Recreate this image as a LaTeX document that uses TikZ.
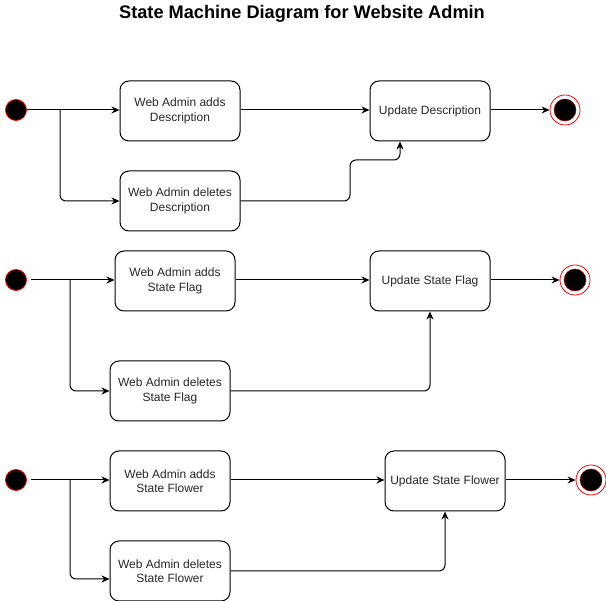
\documentclass[tikz,border=0pt]{standalone}
\usepackage{fontspec}
\setmainfont{Liberation Sans}
\usetikzlibrary{arrows.meta}
\begin{document}
\begin{tikzpicture}[x=1pt, y=-1pt, >={Stealth[length=8pt,width=7pt]}, line width=1pt,
	state/.style={draw, rounded corners=9pt, minimum width=120pt, minimum height=60pt, align=center, inner sep=2pt, font=\fontsize{12}{14.5}\selectfont, text=black!85},
	start/.style={circle, fill=black, draw=red, line width=.8pt, minimum size=21pt, inner sep=0pt},
	stop/.style={circle, fill=white, draw=red, line width=.8pt, minimum size=30pt, inner sep=0pt,
		path picture={\filldraw[fill=black, draw=red!70!black, line width=.5pt] (path picture bounding box.center) circle (11pt);}}]
	\useasboundingbox (0,0) rectangle (606,601);
	\node[font=\fontsize{18.2}{20}\selectfont\bfseries] (title) at (302,14) {State Machine Diagram for Website Admin};

	\foreach \n/\y in {1/110,2/280,3/480}
	{
		\node[start] (s\n) at (16,\y) {};
	}

	% description
	\node[state] (a1) at (180,111) {Web Admin adds\\Description};
	\node[state] (d1) at (180,201) {Web Admin deletes\\Description};
	\node[state] (u1) at (430,111) {Update Description};
	\node[stop] (e1) at (565,110) {};
	\coordinate (j1) at (60,110);
	\draw[->] (s1) -- (a1.west|-s1);
	\draw[->, rounded corners=6pt] (j1) |- (d1);
	\draw[->] (a1.east|-s1) -- (u1.west|-s1);
	\draw[->, rounded corners=6pt] (d1.east) -| (350,160) -| ([xshift=-30pt]u1.south);
	\draw[->] (u1.east|-e1) -- (e1);

	% state flag
	\node[state] (a2) at (175,281) {Web Admin adds\\State Flag};
	\node[state] (d2) at (170,391) {Web Admin deletes\\State Flag};
	\node[state] (u2) at (430,281) {Update State Flag};
	\node[stop] (e2) at (575,280) {};
	\coordinate (j2) at (70,280);
	\draw[->] ([xshift=4pt]s2.east) -- (a2.west|-s2);
	\draw[->, rounded corners=6pt] (j2) |- (d2);
	\draw[->] (a2.east|-s2) -- (u2.west|-s2);
	\draw[->, rounded corners=6pt] (d2.east) -| (u2.south);
	\draw[->] (u2.east|-e2) -- (e2);

	% state flower
	\node[state] (a3) at (170,481) {Web Admin adds\\State Flower};
	\node[state] (d3) at (170,571) {Web Admin deletes\\State Flower};
	\node[state] (u3) at (445,481) {Update State Flower};
	\node[stop] (e3) at (591,480) {};
	\coordinate (j3) at (70,480);
	\draw[->] ([xshift=4pt]s3.east) -- (a3.west|-s3);
	\draw[->, rounded corners=6pt] (j3) |- ([yshift=-8pt]d3.west);
	\draw[->] (a3.east|-s3) -- (u3.west|-s3);
	\draw[->, rounded corners=6pt] (d3.east) -| (u3.south);
	\draw[->] (u3.east|-e3) -- (e3);
\end{tikzpicture}
\end{document}
